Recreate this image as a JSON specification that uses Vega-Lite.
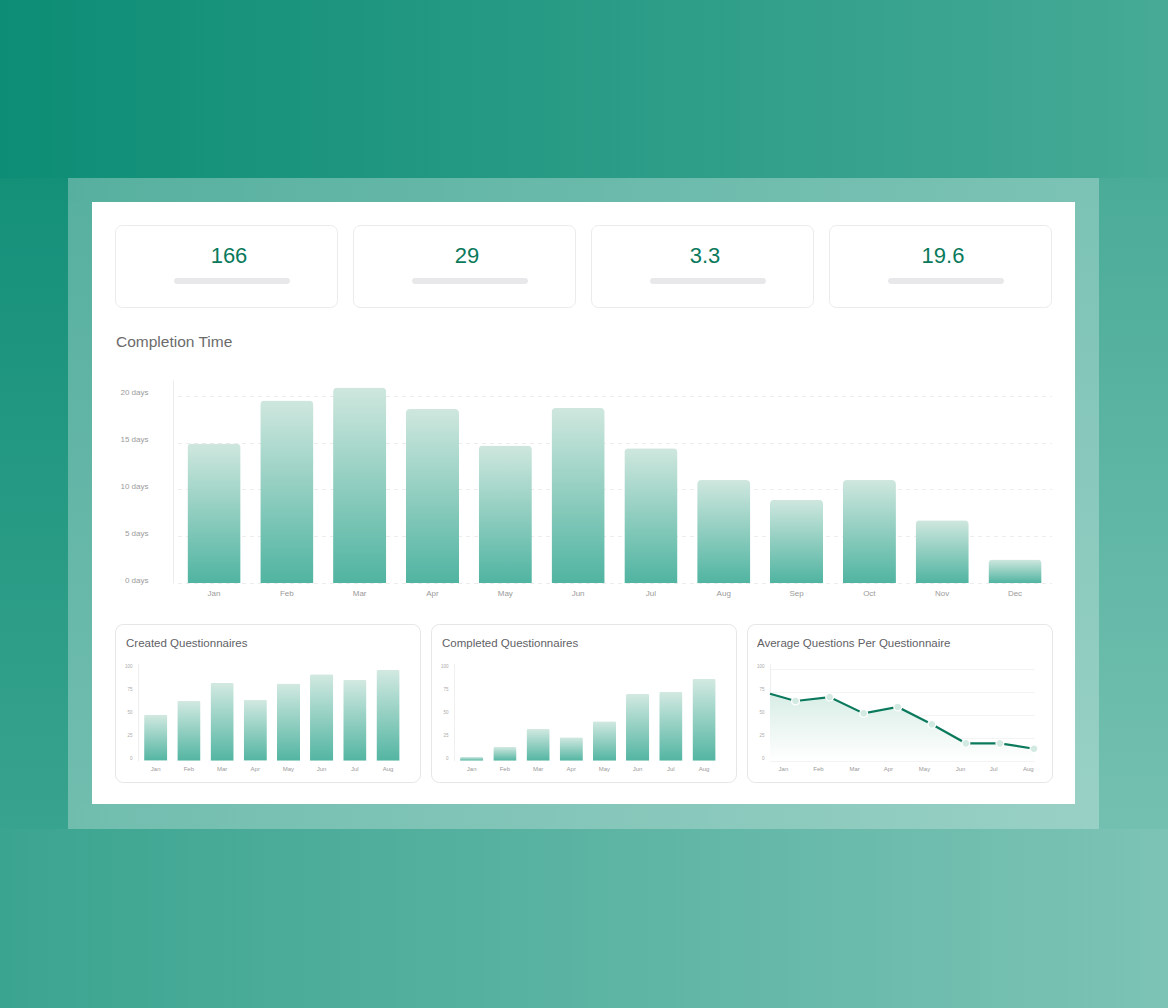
{
  "$schema": "https://vega.github.io/schema/vega-lite/v6.json",
  "background": "#ffffff",
  "padding": 0,
  "spacing": 0,
  "config": {
    "view": {"stroke": null},
    "font": "Liberation Sans",
    "axis": {"labelFont": "Liberation Sans", "titleFont": "Liberation Sans"},
    "title": {"font": "Liberation Sans"}
  },
  "vconcat": [
    {
      "width": 1168, "height": 178,
      "data": {"values": [{}]},
      "mark": {"type": "point", "opacity": 0},
      "encoding": {},
      "view": {"stroke": null, "fill": {"gradient": "linear", "x1": 0, "y1": 0, "x2": 1, "y2": 0, "stops": [{"offset": 0, "color": "#0d8d75"}, {"offset": 0.91, "color": "#40a793"}, {"offset": 1, "color": "#46aa96"}]}}
    },
    {
      "spacing": 0,
      "hconcat": [
        {
          "width": 68, "height": 651,
          "data": {"values": [{}]},
          "mark": {"type": "point", "opacity": 0},
          "encoding": {},
          "view": {"stroke": null, "fill": {"gradient": "linear", "x1": 0, "y1": 0, "x2": 0, "y2": 1, "stops": [{"offset": 0, "color": "#149079"}, {"offset": 1, "color": "#38a38e"}]}}
        },
        {
          "spacing": 0,
          "vconcat": [
            {
              "width": 1031, "height": 24,
              "data": {"values": [{}]},
              "mark": {"type": "point", "opacity": 0},
              "encoding": {},
              "view": {"stroke": null, "fill": {"gradient": "linear", "x1": 0, "y1": 0, "x2": 1, "y2": 0, "stops": [{"offset": 0, "color": "#57b09f"}, {"offset": 1, "color": "#7cc3b5"}]}}
            },
            {
              "spacing": 22,
              "hconcat": [
                {
                  "width": 24, "height": 602,
                  "data": {"values": [{}]},
                  "mark": {"type": "point", "opacity": 0},
                  "encoding": {},
                  "view": {"stroke": null, "fill": {"gradient": "linear", "x1": 0, "y1": 0, "x2": 0, "y2": 1, "stops": [{"offset": 0, "color": "#58b0a0"}, {"offset": 1, "color": "#70bdae"}]}}
                },
                {
                  "spacing": 0,
                  "vconcat": [
                    {
                      "width": 10, "height": 22,
                      "data": {"values": [{}]},
                      "mark": {"type": "point", "opacity": 0},
                      "encoding": {}
                    },
                    {
                      "spacing": 14,
                      "hconcat": [
                        {
                          "width": 222, "height": 82,
                          "view": {"fill": "#ffffff", "stroke": "#ebebeb", "strokeWidth": 1, "cornerRadius": 7},
                          "data": {"values": [{"value": "166"}]},
                          "layer": [
                            {"mark": {"type": "text", "fontSize": 22, "color": "#0b7a5c", "dy": -10, "dx": 3}, "encoding": {"text": {"field": "value", "type": "nominal"}}},
                            {"mark": {"type": "point", "filled": true, "opacity": 1, "color": "#e8e7ea", "size": 13456, "yOffset": 15, "xOffset": 6, "shape": "M-0.95,-0.05 L0.95,-0.05 A0.05,0.05 0 0 1 0.95,0.05 L-0.95,0.05 A0.05,0.05 0 0 1 -0.95,-0.05 Z"}, "encoding": {}}
                          ]
                        },
                        {
                          "width": 222, "height": 82,
                          "view": {"fill": "#ffffff", "stroke": "#ebebeb", "strokeWidth": 1, "cornerRadius": 7},
                          "data": {"values": [{"value": "29"}]},
                          "layer": [
                            {"mark": {"type": "text", "fontSize": 22, "color": "#0b7a5c", "dy": -10, "dx": 3}, "encoding": {"text": {"field": "value", "type": "nominal"}}},
                            {"mark": {"type": "point", "filled": true, "opacity": 1, "color": "#e8e7ea", "size": 13456, "yOffset": 15, "xOffset": 6, "shape": "M-0.95,-0.05 L0.95,-0.05 A0.05,0.05 0 0 1 0.95,0.05 L-0.95,0.05 A0.05,0.05 0 0 1 -0.95,-0.05 Z"}, "encoding": {}}
                          ]
                        },
                        {
                          "width": 222, "height": 82,
                          "view": {"fill": "#ffffff", "stroke": "#ebebeb", "strokeWidth": 1, "cornerRadius": 7},
                          "data": {"values": [{"value": "3.3"}]},
                          "layer": [
                            {"mark": {"type": "text", "fontSize": 22, "color": "#0b7a5c", "dy": -10, "dx": 3}, "encoding": {"text": {"field": "value", "type": "nominal"}}},
                            {"mark": {"type": "point", "filled": true, "opacity": 1, "color": "#e8e7ea", "size": 13456, "yOffset": 15, "xOffset": 6, "shape": "M-0.95,-0.05 L0.95,-0.05 A0.05,0.05 0 0 1 0.95,0.05 L-0.95,0.05 A0.05,0.05 0 0 1 -0.95,-0.05 Z"}, "encoding": {}}
                          ]
                        },
                        {
                          "width": 222, "height": 82,
                          "view": {"fill": "#ffffff", "stroke": "#ebebeb", "strokeWidth": 1, "cornerRadius": 7},
                          "data": {"values": [{"value": "19.6"}]},
                          "layer": [
                            {"mark": {"type": "text", "fontSize": 22, "color": "#0b7a5c", "dy": -10, "dx": 3}, "encoding": {"text": {"field": "value", "type": "nominal"}}},
                            {"mark": {"type": "point", "filled": true, "opacity": 1, "color": "#e8e7ea", "size": 13456, "yOffset": 15, "xOffset": 6, "shape": "M-0.95,-0.05 L0.95,-0.05 A0.05,0.05 0 0 1 0.95,0.05 L-0.95,0.05 A0.05,0.05 0 0 1 -0.95,-0.05 Z"}, "encoding": {}}
                          ]
                        }
                      ]
                    },
                    {
                      "width": 937, "height": 315,
                      "title": {"text": "Completion Time", "anchor": "start", "frame": "group", "offset": -49, "dx": 1, "baseline": "middle", "fontSize": 15.5, "fontWeight": "normal", "color": "#6b6b6b"},
                      "data": {"values": [
                        {"month": "Jan", "days": 14.9}, {"month": "Feb", "days": 19.5}, {"month": "Mar", "days": 20.9},
                        {"month": "Apr", "days": 18.6}, {"month": "May", "days": 14.7}, {"month": "Jun", "days": 18.7},
                        {"month": "Jul", "days": 14.4}, {"month": "Aug", "days": 11.0}, {"month": "Sep", "days": 8.9},
                        {"month": "Oct", "days": 11.0}, {"month": "Nov", "days": 6.7}, {"month": "Dec", "days": 2.5}
                      ]},
                      "mark": {"type": "bar", "cornerRadiusTopLeft": 4, "cornerRadiusTopRight": 4,
                        "color": {"gradient": "linear", "x1": 0, "y1": 0, "x2": 0, "y2": 1, "stops": [{"offset": 0, "color": "#cfe7de"}, {"offset": 1, "color": "#50b4a1"}]}},
                      "encoding": {
                        "x": {"field": "month", "type": "ordinal", "sort": null,
                          "scale": {"range": [62.6, 936.4], "paddingInner": 0.27, "paddingOuter": 0.135},
                          "axis": {"orient": "bottom", "offset": -40, "title": null, "domain": false, "ticks": false, "tickSize": 0, "grid": false, "labelAngle": 0, "labelFontSize": 8, "labelColor": "#9a9a9a", "labelPadding": 6}},
                        "y": {"field": "days", "type": "quantitative",
                          "scale": {"domain": [0, 21.7], "range": [275, 72], "nice": false},
                          "axis": {"orient": "left", "offset": -58, "title": null, "values": [0, 5, 10, 15, 20], "labelExpr": "datum.value + ' days'", "ticks": false, "tickSize": 0, "domain": true, "domainColor": "#ececec", "grid": true, "gridDash": [4, 4], "gridColor": "#ececec", "labelFontSize": 8, "labelColor": "#9a9a9a", "labelPadding": 25, "labelOffset": -3}}
                      }
                    },
                    {
                      "spacing": 9,
                      "hconcat": [
                        {
                          "width": 305, "height": 158,
                          "view": {"fill": "#ffffff", "stroke": "#e6e6e6", "strokeWidth": 1, "cornerRadius": 8},
                          "title": {"text": "Created Questionnaires", "anchor": "start", "frame": "group", "offset": -31, "dx": 11, "baseline": "middle", "fontSize": 11.5, "fontWeight": "normal", "color": "#5f6166"},
                          "data": {"values": [
                            {"month": "Jan", "count": 50}, {"month": "Feb", "count": 65}, {"month": "Mar", "count": 84.5}, {"month": "Apr", "count": 66.3},
                            {"month": "May", "count": 84}, {"month": "Jun", "count": 94}, {"month": "Jul", "count": 87.7}, {"month": "Aug", "count": 98.6}
                          ]},
                          "mark": {"type": "bar", "cornerRadiusTopLeft": 1.5, "cornerRadiusTopRight": 1.5,
                            "color": {"gradient": "linear", "x1": 0, "y1": 0, "x2": 0, "y2": 1, "stops": [{"offset": 0, "color": "#d2e9e1"}, {"offset": 1, "color": "#53b5a2"}]}},
                          "encoding": {
                            "x": {"field": "month", "type": "ordinal", "sort": null,
                              "scale": {"range": [24.1, 289.6], "paddingInner": 0.3, "paddingOuter": 0.15},
                              "axis": {"orient": "bottom", "offset": -21, "title": null, "domain": false, "ticks": false, "tickSize": 0, "grid": false, "labelAngle": 0, "labelFontSize": 6, "labelColor": "#9a9a9a", "labelPadding": 4}},
                            "y": {"field": "count", "type": "quantitative",
                              "scale": {"domain": [0, 106], "range": [136.7, 39.2], "nice": false},
                              "axis": {"orient": "left", "offset": -23, "title": null, "values": [0, 25, 50, 75, 100], "ticks": false, "tickSize": 0, "domain": true, "domainColor": "#efefef", "grid": false, "labelFontSize": 4.5, "labelColor": "#aaaaaa", "labelPadding": 6, "labelOffset": -2}}
                          }
                        },
                        {
                          "width": 305, "height": 158,
                          "view": {"fill": "#ffffff", "stroke": "#e6e6e6", "strokeWidth": 1, "cornerRadius": 8},
                          "title": {"text": "Completed Questionnaires", "anchor": "start", "frame": "group", "offset": -31, "dx": 11, "baseline": "middle", "fontSize": 11.5, "fontWeight": "normal", "color": "#5f6166"},
                          "data": {"values": [
                            {"month": "Jan", "count": 4}, {"month": "Feb", "count": 14.9}, {"month": "Mar", "count": 34.5}, {"month": "Apr", "count": 25.4},
                            {"month": "May", "count": 42.8}, {"month": "Jun", "count": 72.5}, {"month": "Jul", "count": 74.7}, {"month": "Aug", "count": 88.8}
                          ]},
                          "mark": {"type": "bar", "cornerRadiusTopLeft": 1.5, "cornerRadiusTopRight": 1.5,
                            "color": {"gradient": "linear", "x1": 0, "y1": 0, "x2": 0, "y2": 1, "stops": [{"offset": 0, "color": "#d2e9e1"}, {"offset": 1, "color": "#53b5a2"}]}},
                          "encoding": {
                            "x": {"field": "month", "type": "ordinal", "sort": null,
                              "scale": {"range": [24.1, 289.6], "paddingInner": 0.3, "paddingOuter": 0.15},
                              "axis": {"orient": "bottom", "offset": -21, "title": null, "domain": false, "ticks": false, "tickSize": 0, "grid": false, "labelAngle": 0, "labelFontSize": 6, "labelColor": "#9a9a9a", "labelPadding": 4}},
                            "y": {"field": "count", "type": "quantitative",
                              "scale": {"domain": [0, 106], "range": [136.7, 39.2], "nice": false},
                              "axis": {"orient": "left", "offset": -23, "title": null, "values": [0, 25, 50, 75, 100], "ticks": false, "tickSize": 0, "domain": true, "domainColor": "#efefef", "grid": false, "labelFontSize": 4.5, "labelColor": "#aaaaaa", "labelPadding": 6, "labelOffset": -2}}
                          }
                        },
                        {
                          "width": 305, "height": 158,
                          "view": {"fill": "#ffffff", "stroke": "#e6e6e6", "strokeWidth": 1, "cornerRadius": 8},
                          "title": {"text": "Average Questions Per Questionnaire", "anchor": "start", "frame": "group", "offset": -31, "dx": 10, "baseline": "middle", "fontSize": 11.5, "fontWeight": "normal", "color": "#5f6166"},
                          "data": {"values": [
                            {"idx": 0.25, "avg": 72.8}, {"idx": 1, "avg": 64.9}, {"idx": 2, "avg": 69.2}, {"idx": 3, "avg": 51.4},
                            {"idx": 4, "avg": 58.4}, {"idx": 5, "avg": 39.6}, {"idx": 6, "avg": 18.9}, {"idx": 7, "avg": 18.9}, {"idx": 8, "avg": 13.0}
                          ]},
                          "encoding": {
                            "x": {"field": "idx", "type": "quantitative",
                              "scale": {"domain": [0.25, 8], "range": [23, 287], "nice": false, "zero": false},
                              "axis": {"orient": "bottom", "offset": -21, "title": null, "domain": false, "ticks": false, "tickSize": 0, "grid": false, "values": [0.63, 1.66, 2.72, 3.71, 4.77, 5.83, 6.8, 7.82], "labelExpr": "['Jan','Feb','Mar','Apr','May','Jun','Jul','Aug'][round(datum.value + 0.3) - 1]", "labelOverlap": false, "labelFlush": false, "labelBound": false, "labelAngle": 0, "labelFontSize": 6, "labelColor": "#9a9a9a", "labelPadding": 4}},
                            "y": {"field": "avg", "type": "quantitative",
                              "scale": {"domain": [0, 106], "range": [136.7, 39.2], "nice": false},
                              "axis": {"orient": "left", "offset": -23, "title": null, "values": [0, 25, 50, 75, 100], "ticks": false, "tickSize": 0, "domain": true, "domainColor": "#efefef", "grid": true, "gridColor": "#f3f3f3", "labelFontSize": 4.5, "labelColor": "#aaaaaa", "labelPadding": 6, "labelOffset": -2}}
                          },
                          "layer": [
                            {"mark": {"type": "area", "opacity": 1, "color": {"gradient": "linear", "x1": 0, "y1": 0, "x2": 0, "y2": 1, "stops": [{"offset": 0, "color": "#d8ede6"}, {"offset": 1, "color": "#ffffff"}]}}},
                            {"mark": {"type": "line", "color": "#0b7a5c", "strokeWidth": 2.2}},
                            {"transform": [{"filter": "datum.idx >= 1"}],
                             "mark": {"type": "point", "filled": true, "opacity": 1, "size": 62, "color": "#d2eae2", "stroke": "#ffffff", "strokeWidth": 1.2}}
                          ]
                        }
                      ]
                    },
                    {
                      "width": 10, "height": 21,
                      "data": {"values": [{}]},
                      "mark": {"type": "point", "opacity": 0},
                      "encoding": {}
                    }
                  ]
                },
                {
                  "width": 24, "height": 602,
                  "data": {"values": [{}]},
                  "mark": {"type": "point", "opacity": 0},
                  "encoding": {},
                  "view": {"stroke": null, "fill": {"gradient": "linear", "x1": 0, "y1": 0, "x2": 0, "y2": 1, "stops": [{"offset": 0, "color": "#7cc3b5"}, {"offset": 1, "color": "#98d0c5"}]}}
                }
              ]
            },
            {
              "width": 1031, "height": 25,
              "data": {"values": [{}]},
              "mark": {"type": "point", "opacity": 0},
              "encoding": {},
              "view": {"stroke": null, "fill": {"gradient": "linear", "x1": 0, "y1": 0, "x2": 1, "y2": 0, "stops": [{"offset": 0, "color": "#70bdae"}, {"offset": 1, "color": "#99d0c5"}]}}
            }
          ]
        },
        {
          "width": 69, "height": 651,
          "data": {"values": [{}]},
          "mark": {"type": "point", "opacity": 0},
          "encoding": {},
          "view": {"stroke": null, "fill": {"gradient": "linear", "x1": 0, "y1": 0, "x2": 0, "y2": 1, "stops": [{"offset": 0, "color": "#4aac98"}, {"offset": 1, "color": "#74c0b0"}]}}
        }
      ]
    },
    {
      "width": 1168, "height": 179,
      "data": {"values": [{}]},
      "mark": {"type": "point", "opacity": 0},
      "encoding": {},
      "view": {"stroke": null, "fill": {"gradient": "linear", "x1": 0, "y1": 0, "x2": 1, "y2": 0, "stops": [{"offset": 0, "color": "#3ba490"}, {"offset": 0.088, "color": "#40a793"}, {"offset": 1, "color": "#7cc3b5"}]}}
    }
  ]
}
